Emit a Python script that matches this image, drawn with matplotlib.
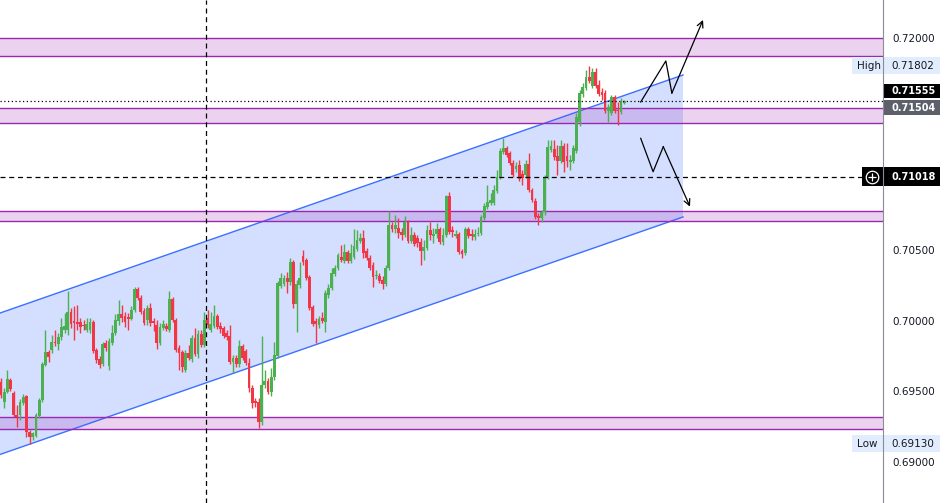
import matplotlib
matplotlib.use("Agg")
import matplotlib.pyplot as plt
import matplotlib.transforms as mtransforms
from matplotlib.patches import Rectangle, Polygon

# candles (o, h, l, c)
opens = [0.69565, 0.69424, 0.69495, 0.69579, 0.69488, 0.69332, 0.69332, 0.69417, 0.69466, 0.69212,
         0.69176, 0.69183, 0.69325, 0.69438, 0.69685, 0.69777, 0.69791, 0.69848, 0.69834, 0.69883,
         0.69933, 0.69933, 0.70060, 0.69997, 0.69989, 0.69989, 0.69968, 0.69933, 0.69933, 0.69989,
         0.69791, 0.69728, 0.69693, 0.69841, 0.69678, 0.69841, 0.69912, 0.69997, 0.70046, 0.70032,
         0.70025, 0.70011, 0.70074, 0.70223, 0.70159, 0.70067, 0.70004, 0.70088, 0.69997, 0.69968,
         0.69841, 0.69947, 0.69961, 0.69933, 0.70152, 0.70004, 0.69806, 0.69777, 0.69650, 0.69770,
         0.69728, 0.69876, 0.69763, 0.69905, 0.69827, 0.70018, 0.69933, 0.69961, 0.70032, 0.69961,
         0.69947, 0.69912, 0.69890, 0.69707, 0.69735, 0.69693, 0.69820, 0.69784, 0.69700, 0.69523,
         0.69431, 0.69424, 0.69282, 0.69544, 0.69572, 0.69495, 0.69601, 0.69749, 0.70244, 0.70258,
         0.70301, 0.70272, 0.70414, 0.70117, 0.70251, 0.70456, 0.70428, 0.70308, 0.70096, 0.69997,
         0.69968, 0.70018, 0.69989, 0.70180, 0.70230, 0.70329, 0.70371, 0.70449, 0.70421, 0.70484,
         0.70421, 0.70449, 0.70506, 0.70562, 0.70583, 0.70491, 0.70442, 0.70392, 0.70315, 0.70315,
         0.70286, 0.70258, 0.70371, 0.70675, 0.70647, 0.70654, 0.70626, 0.70605, 0.70696, 0.70562,
         0.70605, 0.70583, 0.70555, 0.70491, 0.70513, 0.70640, 0.70597, 0.70612, 0.70647, 0.70555,
         0.70605, 0.70880, 0.70640, 0.70597, 0.70612, 0.70491, 0.70477, 0.70647, 0.70612, 0.70590,
         0.70612, 0.70619, 0.70725, 0.70803, 0.70831, 0.70831, 0.70916, 0.71015, 0.71191, 0.71220,
         0.71184, 0.71114, 0.71071, 0.71099, 0.71036, 0.71029, 0.71107, 0.70923, 0.70845, 0.70739,
         0.70725, 0.70767, 0.71015, 0.71205, 0.71213, 0.71163, 0.71128, 0.71234, 0.71163, 0.71121,
         0.71128, 0.71198, 0.71403, 0.71601, 0.71644, 0.71722, 0.71658, 0.71757, 0.71665, 0.71616,
         0.71608, 0.71481, 0.71467, 0.71580, 0.71488, 0.71474, 0.71538]
highs = [0.69594, 0.69523, 0.69650, 0.69594, 0.69502, 0.69403, 0.69445, 0.69480, 0.69473, 0.69226,
         0.69212, 0.69346, 0.69452, 0.69707, 0.69933, 0.69791, 0.69898, 0.69933, 0.69912, 0.70018,
         0.70053, 0.70209, 0.70088, 0.70103, 0.70110, 0.70018, 0.70004, 0.70018, 0.70018, 0.70004,
         0.69806, 0.69749, 0.69848, 0.69862, 0.69876, 0.69968, 0.70046, 0.70145, 0.70110, 0.70060,
         0.70053, 0.70103, 0.70237, 0.70237, 0.70180, 0.70088, 0.70110, 0.70124, 0.70018, 0.70004,
         0.69982, 0.70004, 0.69982, 0.70209, 0.70166, 0.70018, 0.69827, 0.69791, 0.69791, 0.69827,
         0.69898, 0.69947, 0.69933, 0.69933, 0.70060, 0.70074, 0.70060, 0.70110, 0.70046, 0.69989,
         0.69961, 0.69933, 0.69968, 0.69756, 0.69756, 0.69862, 0.69834, 0.69799, 0.69735, 0.69544,
         0.69452, 0.69452, 0.69890, 0.69650, 0.69594, 0.69664, 0.69848, 0.70279, 0.70336, 0.70322,
         0.70343, 0.70442, 0.70428, 0.70286, 0.70414, 0.70498, 0.70442, 0.70322, 0.70110, 0.70018,
         0.70032, 0.70060, 0.70216, 0.70258, 0.70371, 0.70392, 0.70477, 0.70534, 0.70541, 0.70498,
         0.70541, 0.70647, 0.70640, 0.70619, 0.70640, 0.70513, 0.70463, 0.70414, 0.70357, 0.70336,
         0.70315, 0.70392, 0.70774, 0.70696, 0.70746, 0.70725, 0.70654, 0.70739, 0.70711, 0.70661,
         0.70626, 0.70605, 0.70583, 0.70569, 0.70675, 0.70696, 0.70654, 0.70689, 0.70661, 0.70654,
         0.70887, 0.70909, 0.70668, 0.70640, 0.70626, 0.70506, 0.70661, 0.70661, 0.70647, 0.70647,
         0.70661, 0.70746, 0.70831, 0.70958, 0.70901, 0.70958, 0.71064, 0.71220, 0.71290, 0.71234,
         0.71198, 0.71135, 0.71121, 0.71135, 0.71064, 0.71135, 0.71184, 0.70937, 0.70866, 0.70760,
         0.70781, 0.71029, 0.71276, 0.71276, 0.71276, 0.71241, 0.71276, 0.71255, 0.71255, 0.71170,
         0.71241, 0.71467, 0.71630, 0.71679, 0.71771, 0.71802, 0.71785, 0.71785, 0.71700, 0.71644,
         0.71630, 0.71531, 0.71594, 0.71594, 0.71545, 0.71573, 0.71559]
lows = [0.69452, 0.69381, 0.69488, 0.69502, 0.69318, 0.69247, 0.69297, 0.69403, 0.69176, 0.69130,
        0.69155, 0.69176, 0.69311, 0.69424, 0.69678, 0.69707, 0.69770, 0.69820, 0.69791, 0.69862,
        0.69912, 0.69898, 0.69947, 0.69862, 0.69933, 0.69912, 0.69933, 0.69919, 0.69912, 0.69770,
        0.69700, 0.69664, 0.69678, 0.69784, 0.69650, 0.69827, 0.69898, 0.69968, 0.69989, 0.69954,
        0.69933, 0.70004, 0.70060, 0.70145, 0.70046, 0.69968, 0.69968, 0.69961, 0.69926, 0.69799,
        0.69827, 0.69933, 0.69926, 0.69919, 0.69989, 0.69777, 0.69650, 0.69636, 0.69636, 0.69721,
        0.69707, 0.69749, 0.69735, 0.69813, 0.69813, 0.69947, 0.69919, 0.69947, 0.69940, 0.69912,
        0.69876, 0.69862, 0.69693, 0.69629, 0.69671, 0.69671, 0.69721, 0.69685, 0.69495, 0.69381,
        0.69389, 0.69240, 0.69261, 0.69523, 0.69480, 0.69466, 0.69579, 0.69735, 0.70230, 0.70244,
        0.70195, 0.70251, 0.70088, 0.69919, 0.70230, 0.70392, 0.70286, 0.70074, 0.69961, 0.69841,
        0.69947, 0.69982, 0.69919, 0.70159, 0.70216, 0.70315, 0.70357, 0.70414, 0.70407, 0.70407,
        0.70407, 0.70435, 0.70491, 0.70548, 0.70442, 0.70428, 0.70357, 0.70237, 0.70293, 0.70265,
        0.70223, 0.70244, 0.70357, 0.70626, 0.70619, 0.70583, 0.70569, 0.70590, 0.70548, 0.70548,
        0.70527, 0.70520, 0.70392, 0.70428, 0.70498, 0.70569, 0.70548, 0.70583, 0.70541, 0.70534,
        0.70590, 0.70612, 0.70590, 0.70583, 0.70470, 0.70442, 0.70463, 0.70583, 0.70569, 0.70569,
        0.70597, 0.70605, 0.70711, 0.70788, 0.70817, 0.70817, 0.70901, 0.71000, 0.71177, 0.71156,
        0.71099, 0.71015, 0.71050, 0.70986, 0.70958, 0.71008, 0.70909, 0.70838, 0.70718, 0.70675,
        0.70696, 0.70746, 0.71000, 0.71191, 0.71135, 0.71029, 0.71114, 0.71050, 0.71085, 0.71064,
        0.71114, 0.71184, 0.71375, 0.71580, 0.71630, 0.71679, 0.71644, 0.71644, 0.71587, 0.71559,
        0.71467, 0.71403, 0.71453, 0.71467, 0.71382, 0.71460, 0.71531]
closes = [0.69473, 0.69495, 0.69586, 0.69516, 0.69332, 0.69318, 0.69424, 0.69459, 0.69212, 0.69176,
          0.69205, 0.69332, 0.69438, 0.69693, 0.69777, 0.69742, 0.69848, 0.69841, 0.69883, 0.69954,
          0.69961, 0.70060, 0.69975, 0.69982, 0.69975, 0.69954, 0.69961, 0.69975, 0.69989, 0.69784,
          0.69721, 0.69685, 0.69834, 0.69806, 0.69855, 0.69912, 0.70004, 0.70046, 0.70018, 0.69989,
          0.70011, 0.70074, 0.70223, 0.70159, 0.70060, 0.69982, 0.70088, 0.69982, 0.69982, 0.69841,
          0.69954, 0.69975, 0.69940, 0.70152, 0.70004, 0.69791, 0.69770, 0.69671, 0.69770, 0.69735,
          0.69876, 0.69763, 0.69905, 0.69827, 0.70004, 0.69968, 0.69975, 0.70032, 0.69954, 0.69940,
          0.69890, 0.69883, 0.69707, 0.69735, 0.69693, 0.69820, 0.69735, 0.69700, 0.69523, 0.69417,
          0.69417, 0.69282, 0.69544, 0.69572, 0.69495, 0.69601, 0.69756, 0.70265, 0.70301, 0.70301,
          0.70272, 0.70414, 0.70117, 0.70258, 0.70301, 0.70414, 0.70301, 0.70088, 0.69975, 0.69975,
          0.70011, 0.69997, 0.70195, 0.70230, 0.70336, 0.70371, 0.70463, 0.70428, 0.70484, 0.70421,
          0.70477, 0.70527, 0.70569, 0.70583, 0.70477, 0.70442, 0.70371, 0.70308, 0.70322, 0.70279,
          0.70258, 0.70371, 0.70675, 0.70647, 0.70675, 0.70619, 0.70605, 0.70696, 0.70562, 0.70605,
          0.70541, 0.70548, 0.70491, 0.70520, 0.70640, 0.70605, 0.70612, 0.70647, 0.70555, 0.70605,
          0.70880, 0.70626, 0.70626, 0.70612, 0.70484, 0.70470, 0.70647, 0.70597, 0.70597, 0.70612,
          0.70619, 0.70732, 0.70810, 0.70838, 0.70852, 0.70923, 0.71015, 0.71198, 0.71220, 0.71170,
          0.71114, 0.71029, 0.71092, 0.71000, 0.71008, 0.71107, 0.70923, 0.70852, 0.70732, 0.70725,
          0.70767, 0.71015, 0.71227, 0.71234, 0.71156, 0.71128, 0.71234, 0.71121, 0.71128, 0.71135,
          0.71220, 0.71439, 0.71608, 0.71651, 0.71722, 0.71693, 0.71757, 0.71658, 0.71601, 0.71594,
          0.71481, 0.71510, 0.71580, 0.71481, 0.71481, 0.71545, 0.71555]

# supply / demand zones (bottom, top)
zones = [(0.71870, 0.72000), (0.71394, 0.71504), (0.70706, 0.70776), (0.69231, 0.69316)]

# parallel channel, ends given in bar index
channel_x = [-0.3, 214.5]
channel_upper = [0.70053, 0.71736]
channel_lower = [0.69053, 0.70732]

# scenario arrows
up_path_x = [201.2, 209.1, 211.0, 220.8]
up_path_y = [0.71545, 0.71835, 0.71608, 0.72125]
down_path_x = [201.2, 205.1, 208.3, 216.7]
down_path_y = [0.71288, 0.71052, 0.71229, 0.70805]

vline_bar = 64.5
last_price = 0.71555
zone_price = 0.71504
cross_price = 0.71018
high_price = 0.71802
low_price = 0.69130
yticks = [0.69000, 0.69500, 0.70000, 0.70500, 0.72000]

GREEN = "#4caf50"
RED = "#f23645"
BLUE = "#2962ff"
PURPLE = "#9c27b0"
TXT = "#131722"

W, H = 946, 503
AX_W = 883
fig = plt.figure(figsize=(W / 100, H / 100), dpi=100)
ax = fig.add_axes([0, 0, AX_W / W, 1])
ax.set_xlim(-0.3, 277.4)
ax.set_ylim(0.68710, 0.72266)
px = (0.72266 - 0.68710) / H  # price per pixel

# channel
ax.add_patch(Polygon([(channel_x[0], channel_upper[0]), (channel_x[1], channel_upper[1]),
                      (channel_x[1], channel_lower[1]), (channel_x[0], channel_lower[0])],
                     closed=True, facecolor=BLUE, alpha=0.2, edgecolor="none", zorder=1))
ax.plot(channel_x, channel_upper, color=BLUE, lw=1.0, alpha=0.9, zorder=3)
ax.plot(channel_x, channel_lower, color=BLUE, lw=1.0, alpha=0.9, zorder=3)

# zones
for lo, hi in zones:
    ax.axhspan(lo, hi, facecolor=PURPLE, alpha=0.2, edgecolor="none", zorder=2)
    ax.axhline(lo, color=PURPLE, lw=1.0, zorder=3)
    ax.axhline(hi, color=PURPLE, lw=1.0, zorder=3)

# candles
xs = list(range(len(closes)))
cols = [GREEN if c >= o else RED for o, c in zip(opens, closes)]
ax.vlines(xs, lows, highs, colors=cols, lw=1.0, zorder=4)
bottoms = [min(o, c) for o, c in zip(opens, closes)]
heights = [max(abs(c - o), 0.00004) for o, c in zip(opens, closes)]
ax.bar(xs, heights, bottom=bottoms, width=0.88, color=cols, edgecolor="none", zorder=5)

# lines
ax.axvline(vline_bar, color="black", lw=0.9, dashes=(4, 3), zorder=6)
ax.axhline(cross_price, color="black", lw=0.9, dashes=(4, 3), zorder=6)
ax.axhline(last_price, color="black", lw=0.9, dashes=(1, 2), zorder=6)

# arrows
for xp, yp in [(up_path_x, up_path_y), (down_path_x, down_path_y)]:
    ax.plot(xp[:-1], yp[:-1], color="black", lw=0.9, zorder=6)
    ax.annotate("", xy=(xp[-1], yp[-1]), xytext=(xp[-2], yp[-2]),
                arrowprops=dict(arrowstyle="->", color="black", lw=0.9,
                                shrinkA=0, shrinkB=0, mutation_scale=11), zorder=6)

# axes look
for s in ["left", "top", "bottom"]:
    ax.spines[s].set_visible(False)
ax.spines["right"].set_color("#8a8d96")
ax.spines["right"].set_zorder(20)
ax.set_xticks([])
ax.yaxis.tick_right()
ax.set_yticks(yticks)
ax.set_yticklabels([f"{v:.5f}" for v in yticks])
ax.tick_params(axis="y", length=0, pad=7, labelsize=7.5, labelcolor=TXT)

blend = mtransforms.blended_transform_factory(ax.transAxes, ax.transData)


def box(price, x0, x1, hpx, fc):
    ax.add_patch(Rectangle((x0 / AX_W, price - hpx / 2 * px), (x1 - x0) / AX_W, hpx * px,
                           transform=blend, facecolor=fc, edgecolor="none",
                           clip_on=False, zorder=15))


def label(price, s, x, color, bold=False, size=7.5):
    ax.text(x / AX_W, price, s, transform=blend, ha="left", va="center", fontsize=size,
            color=color, fontweight="bold" if bold else "normal", clip_on=False, zorder=16)


# high / low
for p, name in [(high_price, "High"), (low_price, "Low")]:
    box(p, 852, 940, 17, "#e1edfc")
    label(p, name, 857, TXT)
    label(p, f"{p:.5f}", 891, TXT)

# last price (shifted up to avoid the zone label) and zone label
shift = last_price + 10 * px
box(shift, 883, 940, 14, "#000000")
label(shift, f"{last_price:.5f}", 891, "white", bold=True, size=7)
box(zone_price, 883, 940, 15, "#5d606b")
label(zone_price, f"{zone_price:.5f}", 891, "white", bold=True, size=7)

# crosshair price
box(cross_price, 862, 940, 19, "#000000")
label(cross_price, f"{cross_price:.5f}", 891, "white", bold=True, size=7)
ax.plot([872 / AX_W], [cross_price], transform=blend, marker="o", ms=9, mfc="none",
        mec="white", mew=0.9, clip_on=False, zorder=17)
ax.plot([872 / AX_W], [cross_price], transform=blend, marker="+", ms=6, mec="white",
        mew=0.9, clip_on=False, zorder=17)

fig.savefig("out.png", dpi=100)
